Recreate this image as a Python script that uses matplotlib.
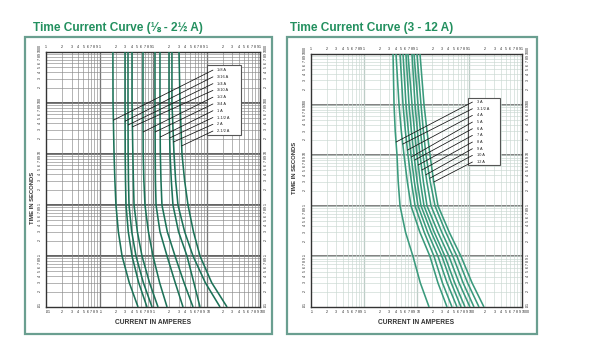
import numpy as np
import matplotlib
matplotlib.use("Agg")
import matplotlib.pyplot as plt
from matplotlib.patches import Rectangle

plt.rcParams['font.family'] = ['Liberation Sans', 'DejaVu Sans']

# ---------------- data: left chart (1/8 - 2 1/2 A) ----------------
left_title = "Time Current Curve (\u215b - 2\u00bd A)"
left_times = [1000, 100, 10, 3, 1, 0.3, 0.1, 0.03, 0.01]
left_labels = ['1/8 A', '3/16 A', '1/4 A', '3/10 A', '1/2 A', '3/4 A',
               '1 A', '1-1/2 A', '2 A', '2-1/2 A']
amp_1_8 = [0.178, 0.179, 0.187, 0.194, 0.203, 0.225, 0.264, 0.36, 0.525]
amp_3_16 = [0.300, 0.300, 0.302, 0.306, 0.313, 0.345, 0.405, 0.54, 0.772]
amp_1_4 = [0.341, 0.341, 0.343, 0.348, 0.356, 0.40, 0.481, 0.66, 0.958]
amp_3_10 = [0.405, 0.405, 0.42, 0.43, 0.442, 0.51, 0.623, 0.86, 1.24]
amp_1_2 = [0.650, 0.650, 0.655, 0.675, 0.708, 0.82, 1.0, 1.33, 1.83]
amp_3_4 = [1.09, 1.09, 1.10, 1.11, 1.14, 1.35, 1.83, 2.6, 3.64]
amp_1 = [1.35, 1.35, 1.37, 1.41, 1.47, 1.85, 2.58, 3.8, 5.6]
amp_1_5 = [1.99, 1.99, 2.08, 2.2, 2.36, 3.0, 4.32, 5.8, 7.56]
amp_2 = [2.26, 2.26, 2.47, 2.65, 2.93, 3.9, 5.6, 9.5, 17.9]
amp_2_5 = [3.06, 3.20, 3.48, 3.9, 4.51, 5.7, 7.56, 12.5, 24.2]
left_leader_t = [46, 44, 37, 34, 27, 27, 21.5, 20.6, 17.2, 14.4]
left_xlim = (0.01, 100)

# ---------------- data: right chart (3 - 12 A) ----------------
right_title = "Time Current Curve (3 - 12 A)"
right_times = [1000, 100, 30, 10, 3, 1, 0.3, 0.1, 0.03, 0.01]
right_labels = ['3 A', '3-1/2 A', '4 A', '5 A', '6 A', '7 A', '8 A',
                '9 A', '10 A', '12 A']
amp_3 = [3.59, 3.75, 3.95, 4.27, 4.50, 4.87, 6.2, 8.58, 11.8, 17.3]
amp_3_5 = [4.09, 4.66, 5.15, 5.80, 6.7, 7.87, 11.6, 18.0, 25.5, 37.9]
amp_4 = [4.87, 5.55, 6.15, 6.90, 8.0, 9.37, 14.0, 21.5, 31.0, 47.1]
amp_5 = [5.55, 6.32, 7.0, 7.87, 9.1, 10.68, 16.3, 25.6, 38.0, 58.6]
amp_6 = [6.32, 7.21, 8.0, 8.97, 10.3, 12.17, 19.0, 30.4, 45.5, 69.8]
amp_7 = [6.90, 8.22, 9.15, 10.22, 11.8, 13.88, 21.7, 34.7, 53.0, 83.1]
amp_8 = [8.22, 9.37, 10.4, 11.65, 13.5, 15.82, 25.5, 41.3, 64.0, 103]
amp_9 = [8.97, 10.68, 11.9, 13.28, 15.7, 18.83, 30.2, 49.2, 76.5, 123]
amp_10 = [10.22, 12.17, 13.5, 15.14, 18.2, 22.43, 35.9, 58.6, 93.0, 153]
amp_12 = [11.65, 13.88, 15.8, 18.03, 21.2, 25.56, 41.8, 69.8, 113, 190]
right_leader_t = [18.2, 16.6, 12.6, 9.2, 8.0, 6.4, 5.1, 4.1, 3.5, 2.95]
right_xlim = (0.1, 1000)

ylim = (0.01, 1000)

left_curves = [amp_1_8, amp_3_16, amp_1_4, amp_3_10, amp_1_2, amp_3_4,
               amp_1, amp_1_5, amp_2, amp_2_5]
right_curves = [amp_3, amp_3_5, amp_4, amp_5, amp_6, amp_7, amp_8,
                amp_9, amp_10, amp_12]

W, H = 608, 351
fig = plt.figure(figsize=(W / 100, H / 100), dpi=100)
fig.patch.set_facecolor('white')


def fx(px):
    return px / W


def fy(py):
    return 1 - py / H


BORDER = '#6a9f90'
TITLE_C = '#23905f'
CURVE_L = '#1d7258'
CURVE_R = '#3a9a7c'


def fmt_full(v):
    s = f"{v:g}"
    if v < 1:
        s = s.lstrip('0')
    return s


def log_ticks(lo, hi):
    vals, labs, mant, dec = [], [], [], []
    e = int(round(np.log10(lo)))
    while 10 ** e < hi:
        for m in range(1, 10):
            v = m * 10.0 ** e
            vals.append(v)
            labs.append(fmt_full(v) if m == 1 else str(m))
            mant.append(str(m))
            dec.append(m == 1)
        e += 1
    vals.append(hi)
    labs.append(fmt_full(hi))
    mant.append('1')
    dec.append(True)
    return vals, labs, mant, dec


def panel(box_px, ax_px, title, title_px, times, curves, labels,
          leader_t, xlim, grid_c, dec_c, vdec_c, curve_c, lbox, lab_y, lead_x,
          text_x, ylabel_px):
    x0, y0, x1, y1 = box_px
    fig.patches.append(Rectangle((fx(x0), fy(y1)), fx(x1 - x0), (y1 - y0) / H,
                                 transform=fig.transFigure, fill=False,
                                 edgecolor=BORDER, lw=1.6))
    fig.text(fx(title_px[0]), fy(title_px[1]), title, fontsize=8.6,
             fontweight='bold', color=TITLE_C, va='baseline', ha='left')
    a0, b0, a1, b1 = ax_px
    ax = fig.add_axes([fx(a0), fy(b1), (a1 - a0) / W, (b1 - b0) / H])
    ax.set_xscale('log')
    ax.set_yscale('log')
    ax.set_xlim(*xlim)
    ax.set_ylim(*ylim)
    xt, xl, xm, xd = log_ticks(*xlim)
    yt, yl_, ym, yd = log_ticks(*ylim)
    ax.set_xticks(xt)
    ax.set_xticklabels(xl)
    ax.set_yticks(yt)
    ax.set_yticklabels(yl_)
    ax.minorticks_off()
    ax.tick_params(axis='x', which='major', bottom=True, labelbottom=True,
                   top=False, labeltop=False, length=0,
                   labelsize=2.6, pad=2.5, labelcolor='#222')
    ax.tick_params(axis='y', which='major', left=True, right=True,
                   labelleft=True, labelright=True, length=0,
                   labelsize=2.6, labelrotation=90, pad=3, labelcolor='#222')
    for tick, is_dec in zip(ax.xaxis.get_major_ticks(), xd):
        if is_dec:
            tick.label1.set_ha('left')
    for tick, is_dec in zip(ax.yaxis.get_major_ticks(), yd):
        if is_dec:
            tick.label1.set_va('bottom')
            tick.label2.set_va('bottom')
    # top scale: log-paper mantissa digits
    axt = ax.twiny()
    axt.set_xscale('log')
    axt.set_xlim(*xlim)
    axt.set_xticks(xt)
    axt.set_xticklabels(xm)
    axt.minorticks_off()
    axt.tick_params(axis='x', which='major', top=True, labeltop=True,
                    bottom=False, labelbottom=False, length=0,
                    labelsize=2.6, pad=2.5, labelcolor='#222')
    for sp in axt.spines.values():
        sp.set_visible(False)

    ax.grid(True, which='major', color=grid_c, lw=0.45)
    for e in range(int(np.log10(xlim[0])) + 1, int(np.log10(xlim[1]))):
        ax.axvline(10.0 ** e, color=vdec_c, lw=0.9, zorder=1)
    for e in range(-1, 3):
        ax.axhline(10.0 ** e, color=dec_c, lw=1.3, zorder=1)
    for sp in ax.spines.values():
        sp.set_color('#333333')
        sp.set_linewidth(1.0)
    for amps in curves:
        ax.plot(amps, times, color=curve_c, lw=1.15, zorder=3,
                solid_capstyle='butt')
    bx0, by0, bx1, by1 = lbox
    ax.add_patch(Rectangle((bx0, by0), bx1 - bx0, by1 - by0,
                           transform=ax.transAxes, facecolor='white',
                           edgecolor='#555555', lw=0.8, zorder=4))
    tlog = np.log(times[::-1])
    for amps, lab, t, yl in zip(curves, labels, leader_t, lab_y):
        cx = np.exp(np.interp(np.log(t), tlog, np.log(amps[::-1])))
        ax.annotate('', xy=(cx, t), xycoords='data', xytext=(lead_x, yl),
                    textcoords='axes fraction',
                    arrowprops=dict(arrowstyle='-', lw=0.55, color='#111111',
                                    shrinkA=0, shrinkB=0), zorder=5)
        ax.text(text_x, yl, lab, transform=ax.transAxes, fontsize=2.8,
                va='center', ha='left', color='#222', zorder=6)
    fig.text(fx(ylabel_px[0]), fy(ylabel_px[1]), 'TIME IN SECONDS',
             rotation=90, fontsize=4.2, fontweight='bold', color='#333',
             ha='center', va='center')
    fig.text(fx((a0 + a1) / 2), fy(323), 'CURRENT IN AMPERES', fontsize=4.8,
             fontweight='bold', color='#333', ha='center', va='center')
    return ax


panel(box_px=(25, 37, 272, 334), ax_px=(46, 52, 260, 307),
      title=left_title, title_px=(33, 31), times=left_times,
      curves=left_curves, labels=left_labels, leader_t=left_leader_t,
      xlim=left_xlim, grid_c='#8a8a8a', dec_c='#555555', vdec_c='#555555',
      curve_c=CURVE_L, lbox=(0.752, 0.675, 0.911, 0.949),
      lab_y=list(np.linspace(0.929, 0.690, 10)), lead_x=0.78, text_x=0.80,
      ylabel_px=(33, 198))

panel(box_px=(287, 37, 537, 334), ax_px=(311, 54, 522, 307),
      title=right_title, title_px=(290, 31), times=right_times,
      curves=right_curves, labels=right_labels, leader_t=right_leader_t,
      xlim=right_xlim, grid_c='#c9d8d2', dec_c='#777777', vdec_c='#aabdb5',
      curve_c=CURVE_R, lbox=(0.744, 0.561, 0.896, 0.826),
      lab_y=list(np.linspace(0.810, 0.573, 10)), lead_x=0.765, text_x=0.787,
      ylabel_px=(295, 168))

fig.savefig('out.png', dpi=100, facecolor='white')
